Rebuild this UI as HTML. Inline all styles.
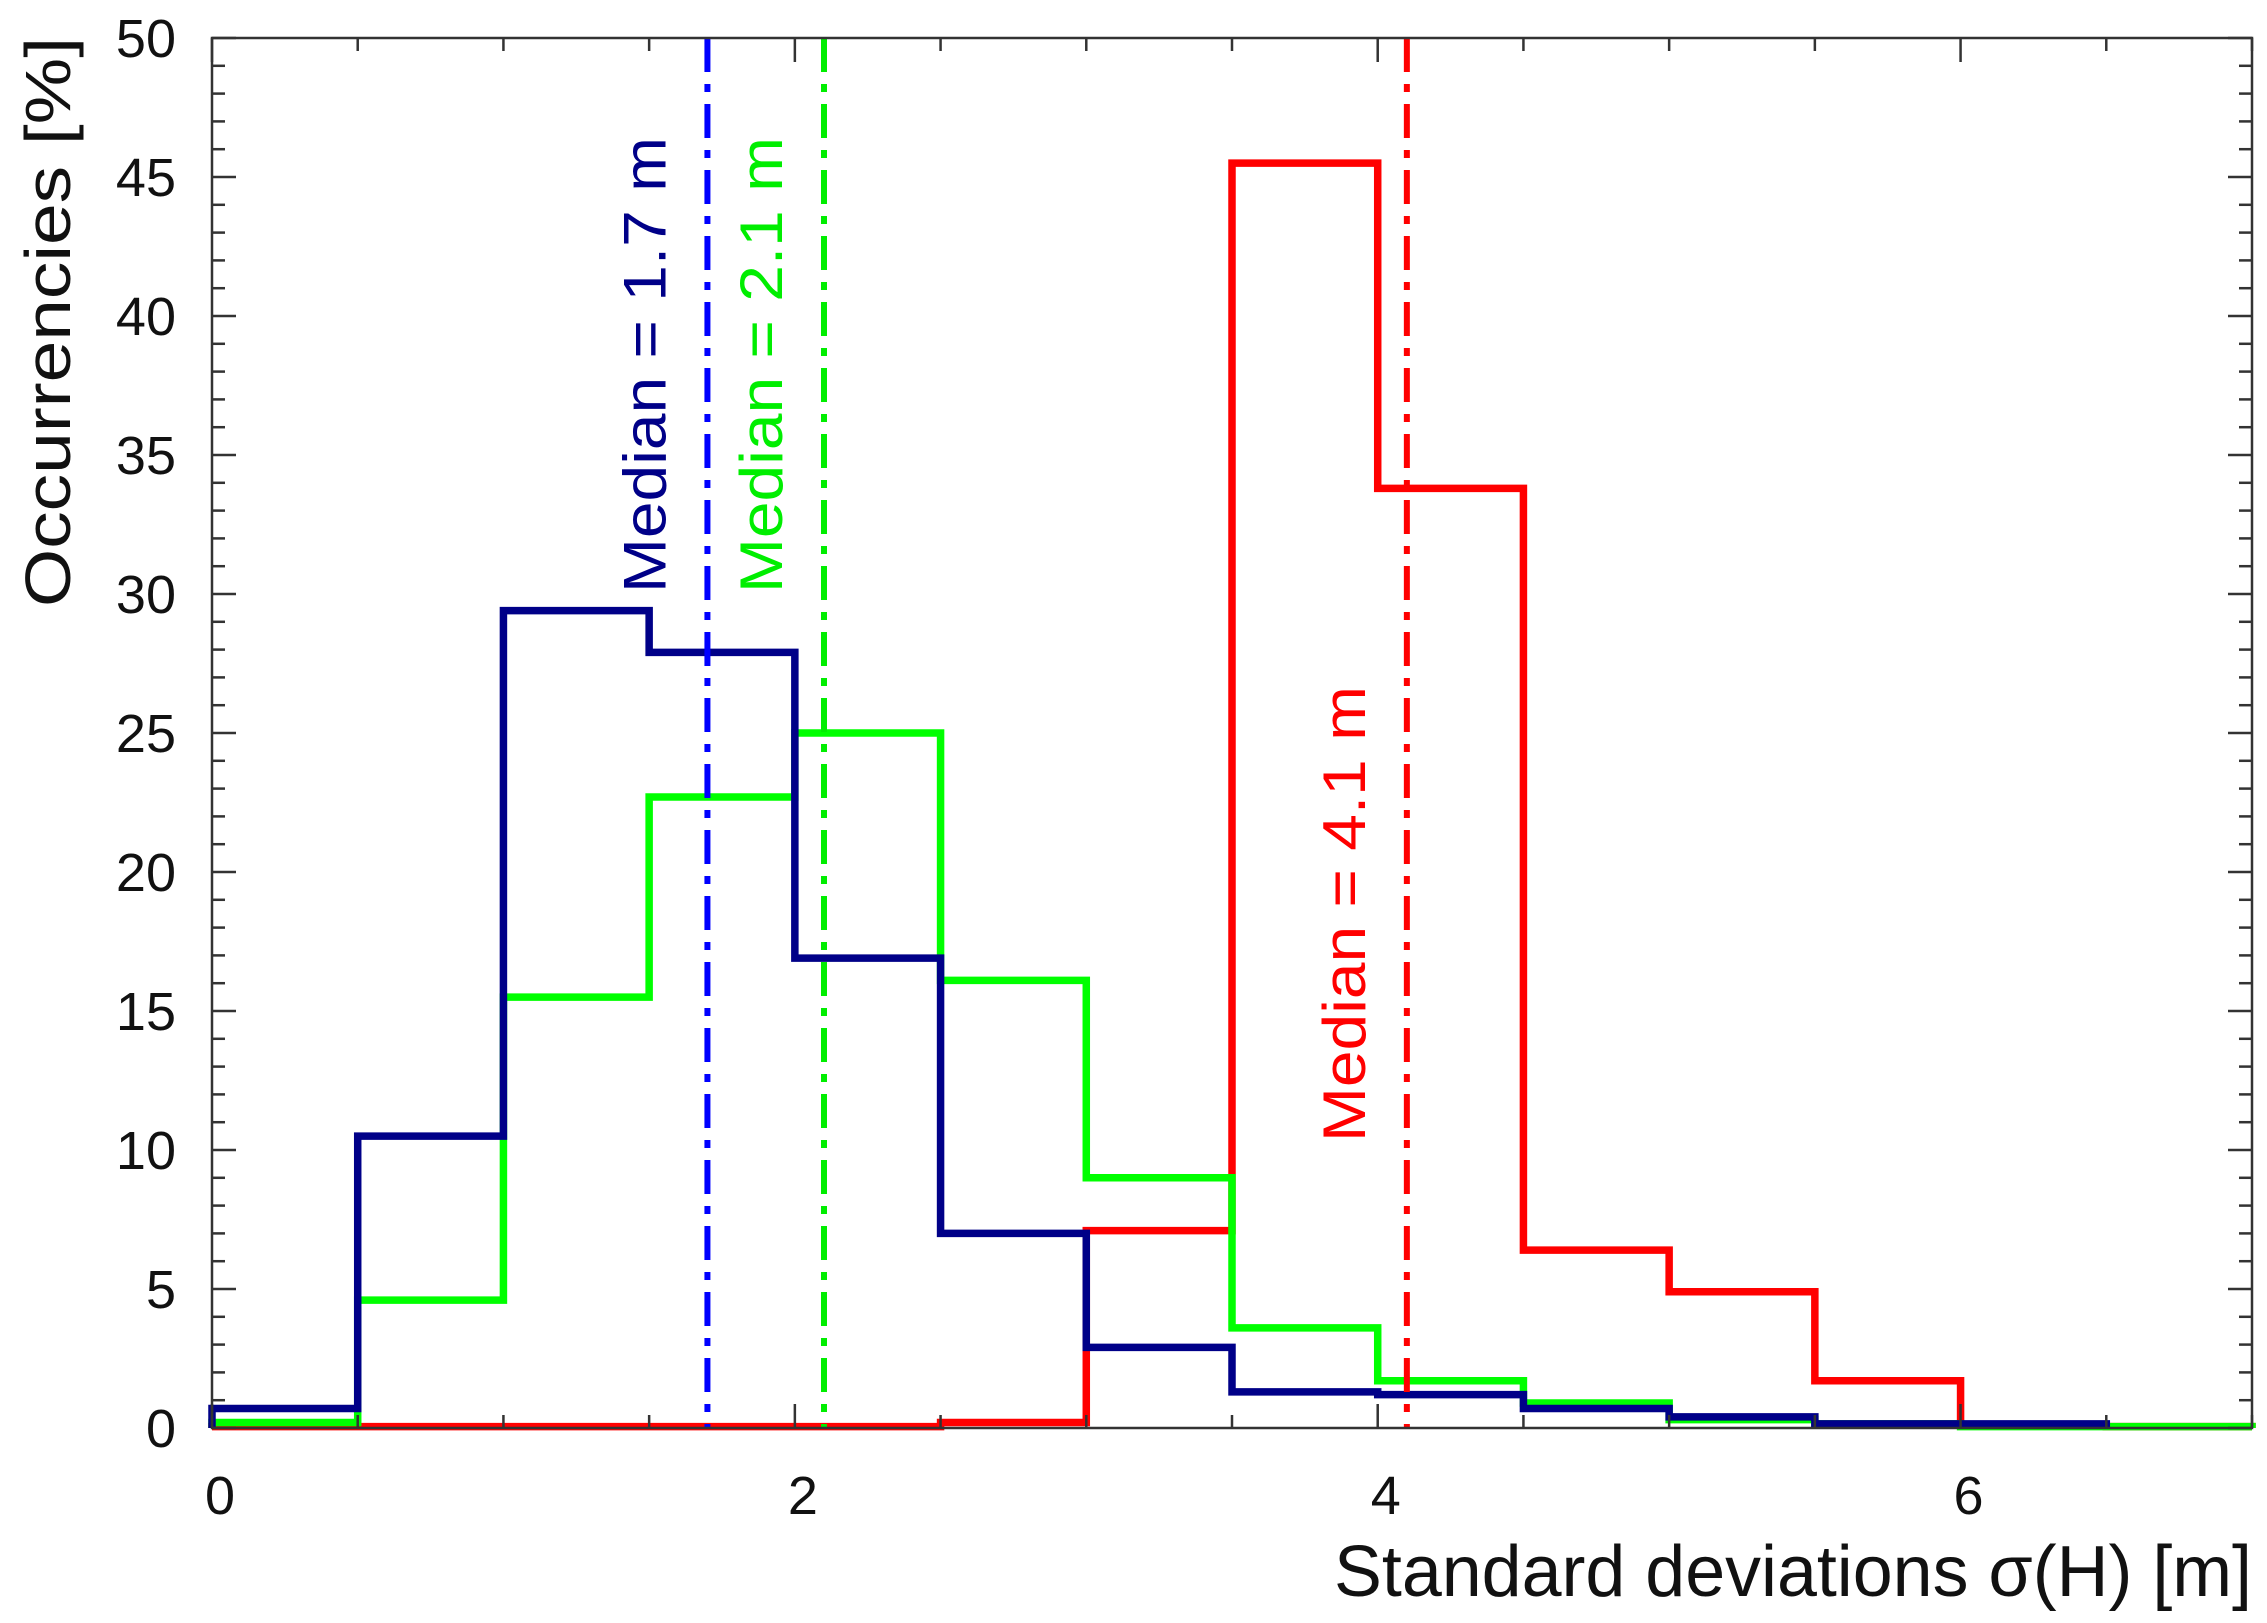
<!DOCTYPE html>
<html><head><meta charset="utf-8"><style>
html,body{margin:0;padding:0;background:#fff;}
svg{display:block;font-family:"Liberation Sans",sans-serif;}
</style></head><body>
<svg id="chart" width="2267" height="1623" viewBox="0 0 2267 1623" xmlns="http://www.w3.org/2000/svg">
<g id="grid"></g>
<g id="series"></g>
<g id="medians"></g>
<rect x="212" y="38" width="2040" height="1390" fill="none" stroke="#333" stroke-width="2.5"/>
<g id="axes"></g>
<text x="2252" y="1596" text-anchor="end" font-size="72" fill="#111" textLength="918" lengthAdjust="spacingAndGlyphs">Standard deviations σ(H) [m]</text>
<text transform="translate(70,322) rotate(-90)" text-anchor="middle" font-size="64" fill="#111" textLength="570" lengthAdjust="spacingAndGlyphs">Occurrencies [%]</text>
</svg>
<script>
const binEdges = [0,0.5,1,1.5,2,2.5,3,3.5,4,4.5,5,5.5,6,6.5,7];
const blueValues = [0.7,10.5,29.4,27.9,16.9,7.0,2.9,1.3,1.2,0.7,0.4,0.15,0.15];
const greenValues = [0.2,4.6,15.5,22.7,25.0,16.1,9.0,3.6,1.7,0.9,0.3,0.15,0.05,0.05];
const redValues = [0.05,0.05,0.05,0.05,0.05,0.2,7.1,45.5,33.8,6.4,4.9,1.7,0.1,0.05];
const medianValues = [1.7,2.1,4.1];
const medianLabels = ["Median = 1.7 m","Median = 2.1 m","Median = 4.1 m"];
const xTickLabels = [0,2,4,6];
const yTickLabels = [0,5,10,15,20,25,30,35,40,45,50];

const L=212,R=2252,T=38,B=1428,XMAX=7,YMAX=50;
const X=v=>L+(R-L)*v/XMAX;
const Y=v=>B-(B-T)*v/YMAX;
const NS="http://www.w3.org/2000/svg";
function mk(tag,parent){const e=document.createElementNS(NS,tag);document.getElementById(parent).appendChild(e);return e;}

function drawHist(vals,color,name){
  let d="M"+X(binEdges[0])+","+Y(0);
  vals.forEach((v,i)=>{d+=" L"+X(binEdges[i])+","+Y(v)+" L"+X(binEdges[i+1])+","+Y(v);});
  d+=" L"+X(binEdges[vals.length])+","+Y(0);
  const p=mk("path","series");
  
  
  p.setAttribute("d",d);p.setAttribute("fill","none");p.setAttribute("stroke",color);p.setAttribute("stroke-width","7.5");
}
drawHist(redValues,"#ff0000","red-histogram");
drawHist(greenValues,"#00ff00","green-histogram");
drawHist(blueValues,"#000088","blue-histogram");

const medColors=["#0000ff","#00ee00","#ff0000"];
const labColors=["#000088","#00ee00","#ff0000"];
const labTop=[137,137,686];
medianValues.forEach((m,i)=>{
  const l=mk("line","medians");
  
  
  l.setAttribute("x1",X(m));l.setAttribute("x2",X(m));l.setAttribute("y1",T);l.setAttribute("y2",B);
  l.setAttribute("stroke",medColors[i]);l.setAttribute("stroke-width","6");l.setAttribute("stroke-dasharray","34,12,8,12");
  const t=mk("text","medians");
  
  
  const cx=X(m)-42;
  t.setAttribute("transform","translate("+cx+","+(labTop[i]+228)+") rotate(-90)");
  t.setAttribute("text-anchor","middle");t.setAttribute("font-size","60");t.setAttribute("fill",labColors[i]);
  t.setAttribute("textLength","456");t.setAttribute("lengthAdjust","spacingAndGlyphs");
  t.textContent=medianLabels[i];
});

for(let v=0;v<=YMAX;v++){
  const len=(v%5===0)?24:13;
  [[L,L+len],[R,R-len]].forEach(a=>{
    const l=mk("line","axes");
    
    
    l.setAttribute("x1",a[0]);l.setAttribute("x2",a[1]);l.setAttribute("y1",Y(v));l.setAttribute("y2",Y(v));
    l.setAttribute("stroke","#333");l.setAttribute("stroke-width","2.5");
  });
}
for(let v=0;v<=XMAX;v+=0.5){
  const len=(v%2===0)?24:13;
  [[B,B-len],[T,T+len]].forEach(a=>{
    const l=mk("line","axes");
    
    
    l.setAttribute("x1",X(v));l.setAttribute("x2",X(v));l.setAttribute("y1",a[0]);l.setAttribute("y2",a[1]);
    l.setAttribute("stroke","#333");l.setAttribute("stroke-width","2.5");
  });
}
yTickLabels.forEach(v=>{
  const t=mk("text","axes");
  
  
  t.setAttribute("x",176);t.setAttribute("y",Y(v)+19);t.setAttribute("text-anchor","end");
  t.setAttribute("font-size","54");t.setAttribute("fill","#111");t.textContent=v;
});
xTickLabels.forEach(v=>{
  const t=mk("text","axes");
  
  
  t.setAttribute("x",X(v)+8);t.setAttribute("y",1514);t.setAttribute("text-anchor","middle");
  t.setAttribute("font-size","54");t.setAttribute("fill","#111");t.textContent=v;
});
</script>
</body></html>
